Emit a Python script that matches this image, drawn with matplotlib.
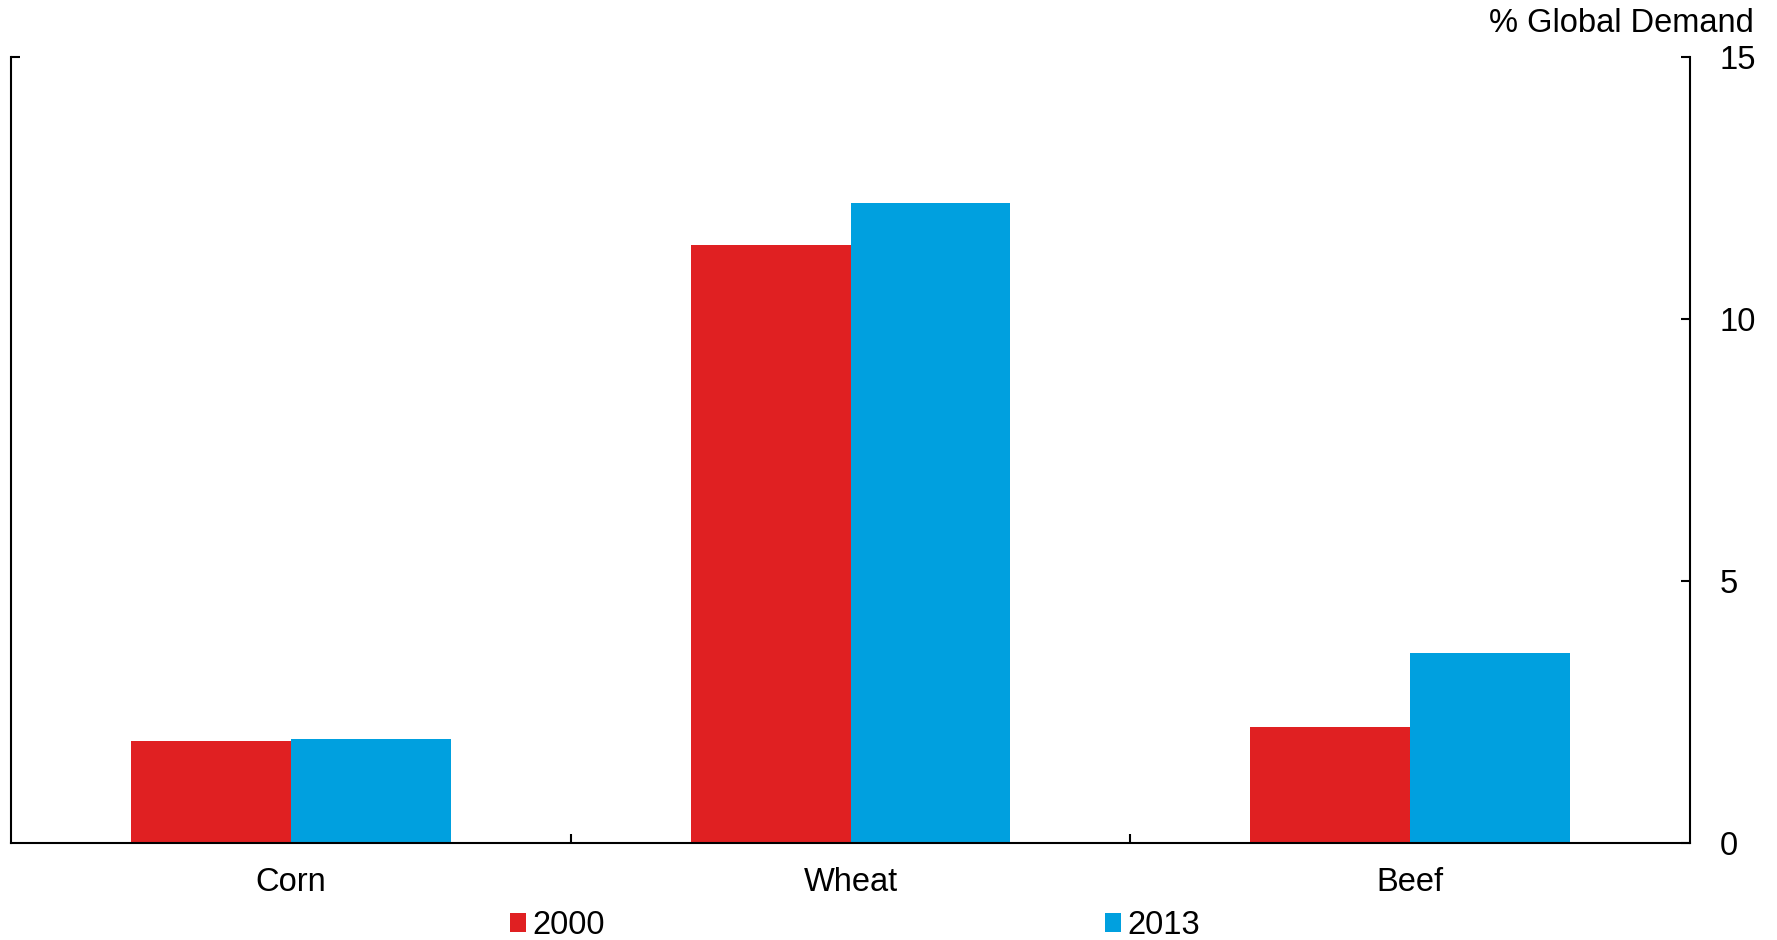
import matplotlib.pyplot as plt
import numpy as np
from matplotlib.patches import Patch

plt.rcParams['font.family'] = ['Liberation Sans', 'DejaVu Sans']

categories = ['Corn', 'Wheat', 'Beef']
share_2000 = [1.95, 11.41, 2.22]
share_2013 = [1.99, 12.22, 3.63]
series_names = ['2000', '2013']

red = '#E02022'
blue = '#00A0DF'
fs = 23.5

fig = plt.figure(figsize=(17.77, 9.40), dpi=100)
ax = fig.add_axes([0.0062, 0.1032, 0.9449, 0.8362])

x = np.arange(len(categories))
width = 0.2857
ax.bar(x - width / 2, share_2000, width, color=red, edgecolor='none')
ax.bar(x + width / 2, share_2013, width, color=blue, edgecolor='none')

ax.set_xlim(-0.5, len(categories) - 0.5)
ax.set_ylim(0, 15)

# value axis sits on the right
ax.yaxis.tick_right()
ax.set_yticks([0, 5, 10, 15])
ax.tick_params(axis='y', direction='in', length=6.5, width=1.5, pad=21,
               labelsize=fs, right=True, left=False)

# category ticks sit between groups, labels under group centres
ax.set_xticks([0.5, 1.5])
ax.set_xticklabels([])
ax.set_xticks(x, minor=True)
ax.set_xticklabels(categories, minor=True)
ax.tick_params(axis='x', which='major', direction='in', length=6.5, width=1.5)
ax.tick_params(axis='x', which='minor', length=0, pad=17, labelsize=fs)

ax.spines['top'].set_visible(False)
for side in ['left', 'right', 'bottom']:
    ax.spines[side].set_linewidth(1.5)

left_cap = ax.secondary_yaxis('left')
left_cap.set_yticks([15])
left_cap.set_yticklabels([])
left_cap.tick_params(direction='in', length=6.5, width=1.5)
left_cap.spines['left'].set_visible(False)

fig.text(0.9871, 0.975, '% Global Demand', ha='right', va='center', fontsize=fs)

handles = [Patch(facecolor=red, edgecolor='none'), Patch(facecolor=blue, edgecolor='none')]
fig.legend(handles, series_names, loc='center left', bbox_to_anchor=(0.2868, 0.0155),
           ncol=2, frameon=False, fontsize=fs, handlelength=0.5, handleheight=0.5,
           handletextpad=0.2, columnspacing=15.32, borderaxespad=0, borderpad=0)

fig.savefig('out.png', dpi=100)
